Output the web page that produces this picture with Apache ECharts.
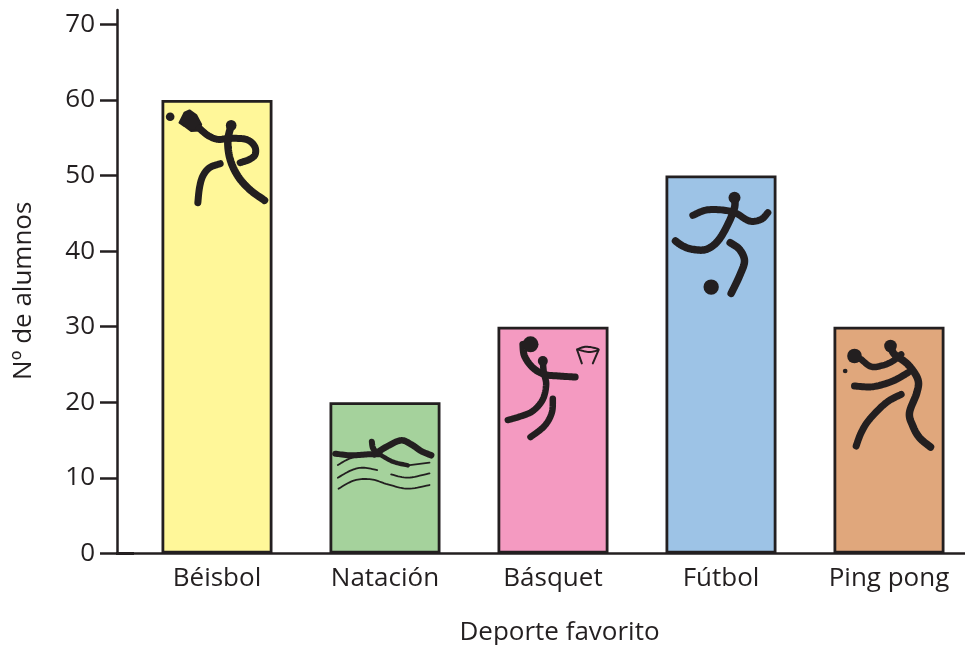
<!DOCTYPE html>
<html><head><meta charset="utf-8">
<script src="https://cdn.jsdelivr.net/npm/echarts@6/dist/echarts.min.js"></script>
<style>html,body{margin:0;padding:0;background:#fff;overflow:hidden}#c{width:965px;height:645px}</style>
</head><body><div id="c"></div>
<script>
const categories = ['Béisbol','Natación','Básquet','Fútbol','Ping pong'];
const alumnos = [60,20,30,50,30];
const barColors = ['#fff799','#a5d29c','#f49ac1','#9dc3e6','#e0a77c'];
const yTicks = [0,10,20,30,40,50,60,70];

const ink = '#231f20';
// Pictograms: strokes in 3x local units, discs [cx,cy,r], blobs as point lists
const icons = [
 {o:[-67.5,-8.9], s:[
  [7,[[150,112],[175,133],[205,145],[240,142],[290,145],[315,165],[317,190],[300,205],[272,215]]],
  [7.5,[[245,103],[235,150],[242,205],[265,255],[300,295],[345,328]]],
  [7,[[212,218],[180,230],[160,255],[150,290],[145,335]]]],
  d:[[62,77,13],[245,103,16]],
  b:[[[90,95],[105,65],[120,58],[140,72],[155,100],[150,118],[125,120],[105,105]]]},
 {o:[-60.5,18.7], s:[
  [6,[[32,98],[80,103],[130,100],[165,100]]],
  [6.5,[[150,100],[190,75],[230,58],[260,70],[290,90],[320,103]]],
  [4.5,[[165,100],[205,122],[250,133]]],
  [6,[[142,62],[145,80],[155,95]]],
  [1.8,[[250,133],[315,125]]],
  [1.8,[[40,132],[70,115],[100,105]]],
  [1.8,[[40,170],[80,148],[115,140],[158,147]]],
  [1.8,[[200,160],[250,170],[315,157]]],
  [1.8,[[42,203],[90,178],[140,175],[190,190],[250,203],[315,192]]]],
  d:[],b:[]},
 {o:[-58.5,-0.7], s:[
  [7,[[85,55],[90,90],[115,125],[150,145],[195,150],[242,153]]],
  [6.5,[[145,105],[148,140],[155,175],[145,220],[115,255],[75,272],[40,282]]],
  [6.5,[[175,218],[172,260],[150,300],[108,333]]],
  [2,[[248,70],[275,62],[312,70],[285,78],[248,70]]],
  [2,[[248,72],[262,112]]],
  [2,[[312,72],[295,112]]]],
  d:[[108,55,24],[145,105,15]],b:[]},
 {o:[-61.5,10.5], s:[
  [7.5,[[225,35],[225,65],[205,115],[175,165],[140,190],[100,190],[70,180],[48,165]]],
  [7,[[100,88],[140,72],[190,72],[230,82],[270,105],[305,100],[325,80]]],
  [7.5,[[212,170],[240,190],[255,225],[240,270],[215,322]]]],
  d:[[225,35,18],[155,303,23]],b:[]},
 {o:[-59.5,9.3], s:[
  [6.5,[[95,70],[125,92],[160,88],[190,75],[215,55]]],
  [7.5,[[183,30],[195,55],[235,85],[265,130],[262,170],[240,230],[250,270],[270,305],[303,333]]],
  [7,[[75,150],[130,152],[190,135],[235,110]]],
  [7,[[215,175],[170,200],[120,250],[95,290],[80,330]]]],
  d:[[75,60,22],[47,105,7],[183,30,19]],b:[]}
];

const font = '"Open Sans","Noto Sans",sans-serif';
const chart = echarts.init(document.getElementById('c'),null,{renderer:'canvas'});
const top0 = 10, gridH = 543.5, gridLeft = 133;

// Catmull-Rom sampling so strokes read as brush curves
function curve(pts){
  if(pts.length<3) return pts;
  const out=[];
  for(let i=0;i<pts.length-1;i++){
    const p0=pts[Math.max(i-1,0)],p1=pts[i],p2=pts[i+1],p3=pts[Math.min(i+2,pts.length-1)];
    for(let k=0;k<10;k++){
      const t=k/10,t2=t*t,t3=t2*t;
      out.push([0,1].map(j=>0.5*(2*p1[j]+(p2[j]-p0[j])*t+(2*p0[j]-5*p1[j]+4*p2[j]-p3[j])*t2+(3*p1[j]-p0[j]-3*p2[j]+p3[j])*t3)));
    }
  }
  out.push(pts[pts.length-1]);
  return out;
}

function renderIcon(params, api){
  const ic = icons[params.dataIndex];
  const a = api.coord([api.value(0), api.value(1)]);
  const P = p => [a[0]+ic.o[0]+p[0]/3, a[1]+ic.o[1]+p[1]/3];
  const children = [];
  ic.b.forEach(pts=>children.push({type:'polygon',shape:{points:pts.map(P)},style:{fill:ink,stroke:ink,lineWidth:2,lineJoin:'round'}}));
  ic.s.forEach(s=>children.push({type:'polyline',shape:{points:curve(s[1]).map(P)},
     style:{fill:null,stroke:ink,lineWidth:s[0],lineCap:'round',lineJoin:'round'}}));
  ic.d.forEach(d=>{const c=P(d);children.push({type:'circle',shape:{cx:c[0],cy:c[1],r:d[2]/3},style:{fill:ink}})});
  return {type:'group',children};
}

chart.setOption({
  animation:false,
  backgroundColor:'#fff',
  grid:{left:gridLeft,top:top0,width:840,height:gridH,containLabel:false,outerBoundsMode:'none'},
  xAxis:{type:'category',data:categories,
    axisLine:{lineStyle:{color:ink,width:2.5}},
    axisTick:{show:false},
    axisLabel:{color:ink,fontFamily:font,fontSize:26,margin:12},
    name:'Deporte favorito',nameLocation:'middle',nameGap:66,
    nameTextStyle:{color:ink,fontFamily:font,fontSize:26,padding:[0,0,0,13]}},
  yAxis:{type:'value',min:0,max:71.9,offset:16,
    splitLine:{show:false},
    axisLine:{show:true,lineStyle:{color:ink,width:2.5}},
    axisTick:{show:true,length:17,lineStyle:{color:ink,width:2.5},customValues:yTicks},
    axisLabel:{color:ink,fontFamily:font,fontSize:26,margin:22,customValues:yTicks},
    name:'Nº de alumnos',nameLocation:'middle',nameGap:80,
    nameTextStyle:{color:ink,fontFamily:font,fontSize:26,padding:[0,18,0,0]}},
  series:[
   {type:'bar',barWidth:111,data:alumnos.map((v,i)=>({value:v,itemStyle:{color:barColors[i],borderColor:ink,borderWidth:2.8}}))},
   {type:'custom',renderItem:renderIcon,data:alumnos.map((v,i)=>[i,v]),encode:{x:0,y:1},z:5,silent:true}
  ],
  graphic:[{type:'rect',shape:{x:116,y:552,width:gridLeft-116+1,height:3},style:{fill:ink}}]
});
</script></body></html>
